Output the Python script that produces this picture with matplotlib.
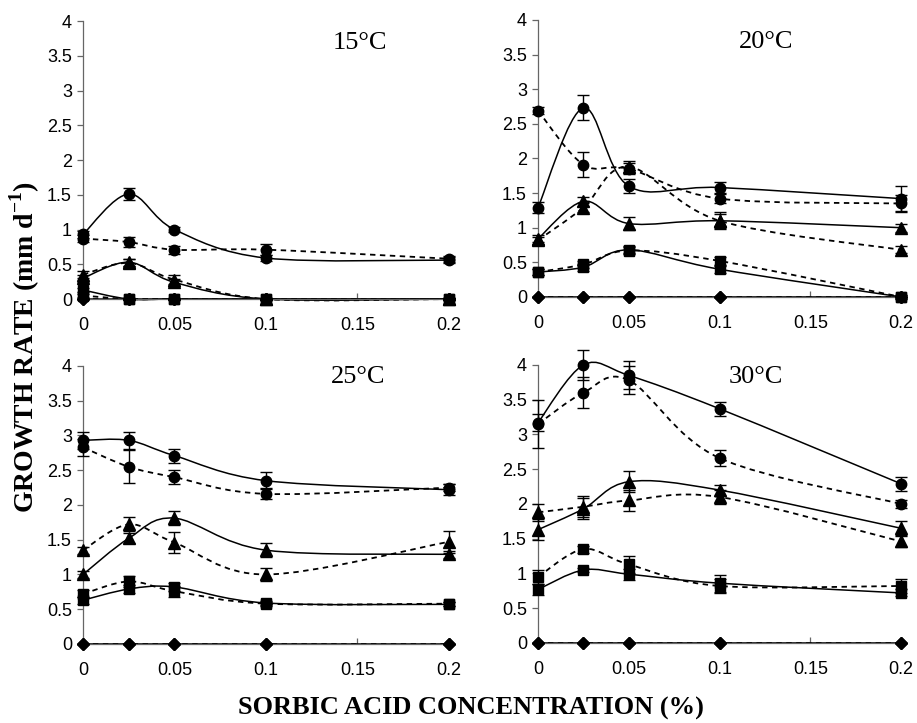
import numpy as np
import matplotlib
matplotlib.use("Agg")
from matplotlib import pyplot as plt
from matplotlib.path import Path
from matplotlib.patches import PathPatch

# sorbic acid concentration (%)
conc = [0, 0.025, 0.05, 0.1, 0.2]
temps = ["15°C", "20°C", "25°C", "30°C"]

# growth rates (mm/d); "solid" and "dashed" are the two isolates per marker
circ_solid = [
    [0.93, 1.51, 1.00, 0.59, 0.56],
    [1.29, 2.73, 1.60, 1.58, 1.42],
    [2.93, 2.93, 2.71, 2.35, 2.22],
    [3.17, 4.00, 3.85, 3.37, 2.29],
]
circ_dashed = [
    [0.87, 0.82, 0.71, 0.71, 0.58],
    [2.69, 1.91, 1.85, 1.42, 1.35],
    [2.83, 2.55, 2.40, 2.16, 2.25],
    [3.15, 3.60, 3.78, 2.66, 2.00],
]
tri_solid = [
    [0.30, 0.53, 0.24, 0.0, 0.0],
    [0.84, 1.38, 1.06, 1.10, 1.00],
    [1.00, 1.52, 1.81, 1.35, 1.29],
    [1.63, 1.93, 2.32, 2.20, 1.65],
]
tri_dashed = [
    [0.35, 0.52, 0.28, 0.0, 0.0],
    [0.82, 1.29, 1.88, 1.10, 0.68],
    [1.35, 1.72, 1.46, 1.00, 1.47],
    [1.88, 1.96, 2.05, 2.10, 1.46],
]
sq_solid = [
    [0.13, 0.0, 0.0, 0.0, 0.0],
    [0.36, 0.43, 0.68, 0.40, 0.0],
    [0.63, 0.79, 0.82, 0.59, 0.57],
    [0.77, 1.05, 0.99, 0.86, 0.72],
]
sq_dashed = [
    [0.05, 0.0, 0.0, 0.0, 0.0],
    [0.36, 0.47, 0.67, 0.52, 0.0],
    [0.72, 0.90, 0.76, 0.58, 0.58],
    [0.95, 1.35, 1.13, 0.82, 0.82],
]
dia_vals = [0, 0, 0, 0, 0]

# standard errors
circ_solid_err = [
    [0.05, 0.09, 0.04, 0.04, 0.04],
    [0.08, 0.18, 0.10, 0.08, 0.18],
    [0.12, 0.12, 0.10, 0.12, 0.08],
    [0.12, 0.22, 0.20, 0.10, 0.10],
]
circ_dashed_err = [
    [0.05, 0.07, 0.06, 0.08, 0.04],
    [0.05, 0.18, 0.08, 0.06, 0.12],
    [0.12, 0.24, 0.10, 0.08, 0.05],
    [0.35, 0.22, 0.20, 0.12, 0.06],
]
tri_solid_err = [
    [0.05, 0.05, 0.05, 0.02, 0.02],
    [0.05, 0.07, 0.10, 0.10, 0.06],
    [0.05, 0.07, 0.10, 0.10, 0.05],
    [0.15, 0.15, 0.15, 0.08, 0.10],
]
tri_dashed_err = [
    [0.05, 0.05, 0.06, 0.02, 0.02],
    [0.05, 0.06, 0.08, 0.12, 0.05],
    [0.05, 0.10, 0.15, 0.10, 0.16],
    [0.12, 0.15, 0.15, 0.10, 0.08],
]
sq_solid_err = [
    [0.03, 0.02, 0.02, 0.02, 0.02],
    [0.05, 0.05, 0.05, 0.05, 0.03],
    [0.05, 0.06, 0.06, 0.03, 0.03],
    [0.08, 0.03, 0.08, 0.12, 0.05],
]
sq_dashed_err = [
    [0.02, 0.02, 0.02, 0.02, 0.02],
    [0.04, 0.05, 0.05, 0.06, 0.03],
    [0.05, 0.08, 0.08, 0.03, 0.03],
    [0.10, 0.05, 0.12, 0.10, 0.10],
]

yticks = [0, 0.5, 1, 1.5, 2, 2.5, 3, 3.5, 4]
ytick_labels = ["0", "0.5", "1", "1.5", "2", "2.5", "3", "3.5", "4"]
xticks = [0, 0.05, 0.1, 0.15, 0.2]
xtick_labels = ["0", "0.05", "0.1", "0.15", "0.2"]

SERIF = ["Liberation Serif", "DejaVu Serif"]
SANS = ["Liberation Sans", "DejaVu Sans"]


def smooth_path(x, y):
    """Excel-like smoothed line: cubic Bezier segments through the points."""
    pts = np.column_stack([x, y]).astype(float)
    n = len(pts)
    verts = [pts[0]]
    codes = [Path.MOVETO]
    for i in range(n - 1):
        p0 = pts[i - 1] if i > 0 else pts[i]
        p1 = pts[i]
        p2 = pts[i + 1]
        p3 = pts[i + 2] if i + 2 < n else pts[i + 1]
        c1 = p1 + (p2 - p0) / 6.0
        c2 = p2 - (p3 - p1) / 6.0
        verts += [c1, c2, p2]
        codes += [Path.CURVE4] * 3
    return Path(verts, codes)


def draw_series(ax, y, err, marker, ms, dashed):
    path = smooth_path(conc, y)
    ls = (0, (3, 2.5)) if dashed else "-"
    lw = 1.3 if dashed else 1.1
    ax.add_patch(PathPatch(path, facecolor="none", edgecolor="black",
                           lw=lw, ls=ls, zorder=2, clip_on=False))
    if err is not None:
        ax.errorbar(conc, y, yerr=err, fmt="none", ecolor="black",
                    elinewidth=1.0, capsize=4.5, capthick=1.0,
                    zorder=3, clip_on=False)
    ax.plot(conc, y, ls="none", marker=marker, ms=ms, color="black",
            zorder=4, clip_on=False)


fig = plt.figure(figsize=(9.17, 7.23), dpi=100)
positions = [
    [0.0905, 0.5864, 0.399, 0.3845],
    [0.5867, 0.5893, 0.396, 0.3831],
    [0.0905, 0.1093, 0.399, 0.3845],
    [0.5867, 0.1107, 0.396, 0.3845],
]
title_pos = [(0.757, 0.92), (0.628, 0.92), (0.751, 0.96), (0.60, 0.957)]

for k in range(4):
    ax = fig.add_axes(positions[k])
    for s in ["top", "right"]:
        ax.spines[s].set_visible(False)
    for s in ["left", "bottom"]:
        ax.spines[s].set_color("#666666")
        ax.spines[s].set_linewidth(0.9)
    ax.set_xlim(0, 0.2)
    ax.set_ylim(0, 4)

    draw_series(ax, dia_vals, None, "D", 6, False)
    draw_series(ax, dia_vals, None, "D", 6, True)
    draw_series(ax, sq_solid[k], sq_solid_err[k], "s", 7, False)
    draw_series(ax, sq_dashed[k], sq_dashed_err[k], "s", 7, True)
    draw_series(ax, tri_solid[k], tri_solid_err[k], "^", 8, False)
    draw_series(ax, tri_dashed[k], tri_dashed_err[k], "^", 8, True)
    draw_series(ax, circ_solid[k], circ_solid_err[k], "o", 7.5, False)
    draw_series(ax, circ_dashed[k], circ_dashed_err[k], "o", 7.5, True)

    ax.set_yticks(yticks)
    ax.set_yticklabels(ytick_labels, fontfamily=SANS, fontsize=13)
    ax.set_xticks(xticks)
    ax.set_xticklabels(xtick_labels, fontfamily=SANS, fontsize=13)
    ax.tick_params(axis="y", direction="out", length=4, width=0.9,
                   color="#666666", pad=4)
    ax.tick_params(axis="x", direction="in", length=4, width=0.9,
                   color="#666666", pad=13)

    ax.text(title_pos[k][0], title_pos[k][1], temps[k], transform=ax.transAxes,
            fontfamily=SERIF, fontsize=19, ha="center", va="center")

fig.text(0.027, 0.52, "GROWTH RATE (mm d$^{\\mathregular{-1}}$)", rotation=90,
         fontfamily=SERIF, fontweight="bold", fontsize=20,
         ha="center", va="center")
fig.text(0.514, 0.02, "SORBIC ACID CONCENTRATION (%)",
         fontfamily=SERIF, fontweight="bold", fontsize=19,
         ha="center", va="center")

fig.savefig("out.png", dpi=100)
